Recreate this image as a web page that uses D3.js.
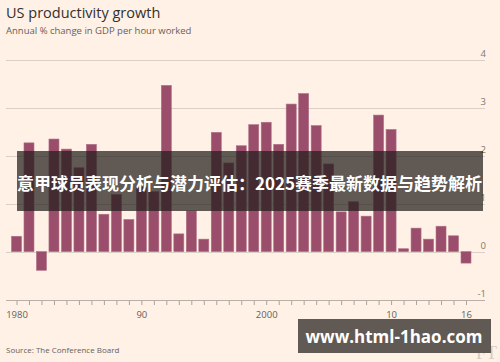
<!DOCTYPE html>
<html>
<head>
<meta charset="utf-8">
<script src="https://cdn.jsdelivr.net/npm/d3@7"></script>
<style>
  body { margin: 0; background: #fff1e5; }
  svg { display: block; }
</style>
</head>
<body>
<div id="chart"></div>
<script>
// data (some tops hidden under the banner are estimates)
var years = d3.range(1980, 2017);
var growth = [0.32, 2.27, -0.39, 2.35, 2.14, 1.75, 2.24, 0.78, 1.19, 0.67,
              1.35, 1.25, 3.47, 0.37, 0.85, 0.26, 2.49, 1.85, 2.21, 2.65,
              2.70, 2.24, 3.08, 3.30, 2.63, 1.83, 0.83, 1.04, 0.74, 2.85,
              2.55, 0.06, 0.49, 0.26, 0.53, 0.33, -0.24];
var yTicks = [-1, 0, 1, 2, 3, 4];
var xLabels = {1980: "1980", 1990: "90", 2000: "2000", 2010: "10", 2016: "16"};

var svgWidth = 500;
var svgHeight = 362;

var svg = d3.select("#chart").append("svg")
  .attr("width", svgWidth)
  .attr("height", svgHeight);

svg.append("rect")
  .attr("width", svgWidth)
  .attr("height", svgHeight)
  .attr("fill", "#fff1e5");

var xScale = d3.scaleLinear()
  .domain([1980, 2016])
  .range([16.5, 466]);
var barWidth = 10;

var yScale = d3.scaleLinear()
  .domain([-1, 4])
  .range([299.5, 60]);

// title + subtitle
svg.append("text")
  .attr("x", 6).attr("y", 18)
  .attr("font-family", "Open Sans")
  .attr("font-size", 14.5)
  .attr("fill", "#33302e")
  .text("US productivity growth");

svg.append("text")
  .attr("x", 6).attr("y", 34)
  .attr("font-family", "Open Sans")
  .attr("font-size", 9.5)
  .attr("fill", "#66605c")
  .text("Annual % change in GDP per hour worked");

// gridlines
var grid = svg.append("g");
grid.selectAll("line")
  .data(yTicks)
  .enter()
  .append("line")
  .attr("x1", 6).attr("x2", 485)
  .attr("y1", d => Math.round(yScale(d)) + 0.5)
  .attr("y2", d => Math.round(yScale(d)) + 0.5)
  .attr("stroke", "#dcd0c6")
  .attr("stroke-width", 1);

grid.selectAll("text")
  .data(yTicks)
  .enter()
  .append("text")
  .attr("x", 486)
  .attr("y", d => yScale(d) - 3)
  .attr("text-anchor", "end")
  .attr("font-family", "Open Sans")
  .attr("font-size", 9.5)
  .attr("fill", "#807973")
  .text(d => d);

// bars
svg.append("g").selectAll("rect")
  .data(growth)
  .enter()
  .append("rect")
  .attr("x", (d, i) => xScale(years[i]) - barWidth / 2)
  .attr("y", d => yScale(Math.max(0, d)))
  .attr("width", barWidth)
  .attr("height", d => Math.abs(yScale(d) - yScale(0)))
  .attr("fill", "#9a4e6c")
  .attr("stroke", "#b07088")
  .attr("stroke-width", 0.6);

// x axis
var xAxis = d3.axisBottom(xScale)
  .tickValues(years)
  .tickSize(5)
  .tickPadding(6)
  .tickFormat(d => xLabels[d] || "");

var axisG = svg.append("g")
  .attr("transform", "translate(0, 300)")
  .call(xAxis);
axisG.select(".domain").remove();
axisG.append("line")
  .attr("x1", 6).attr("x2", 485)
  .attr("y1", 0.5).attr("y2", 0.5)
  .attr("stroke", "#b9afa6");
axisG.selectAll(".tick line").attr("stroke", "#aaa29b");
axisG.selectAll(".tick text")
  .attr("font-family", "Open Sans")
  .attr("font-size", 9.5)
  .attr("fill", "#66605c");

// source + FT mark
svg.append("text")
  .attr("x", 6).attr("y", 353)
  .attr("font-family", "Open Sans")
  .attr("font-size", 8)
  .attr("fill", "#66605c")
  .text("Source: The Conference Board");

svg.append("text")
  .attr("x", 476).attr("y", 359)
  .attr("font-family", "Liberation Serif")
  .attr("font-size", 18)
  .attr("fill", "#d6ccc3")
  .text("FT");

// banner over the chart
svg.append("rect")
  .attr("x", 17).attr("y", 151)
  .attr("width", 466).attr("height", 60)
  .attr("fill", "rgba(35,30,28,0.72)");

svg.append("text")
  .attr("x", 17).attr("y", 190)
  .attr("font-family", "Noto Sans CJK SC")
  .attr("font-weight", "bold")
  .attr("font-size", 17)
  .attr("fill", "#ffffff")
  .text("意甲球员表现分析与潜力评估：2025赛季最新数据与趋势解析");

// watermark box
svg.append("rect")
  .attr("x", 298).attr("y", 319)
  .attr("width", 193).attr("height", 34)
  .attr("fill", "#615a54");

svg.append("text")
  .attr("x", 394).attr("y", 343)
  .attr("text-anchor", "middle")
  .attr("font-family", "Open Sans")
  .attr("font-weight", "bold")
  .attr("font-size", 17)
  .attr("fill", "#ffffff")
  .text("www.html-1hao.com");
</script>
</body>
</html>
